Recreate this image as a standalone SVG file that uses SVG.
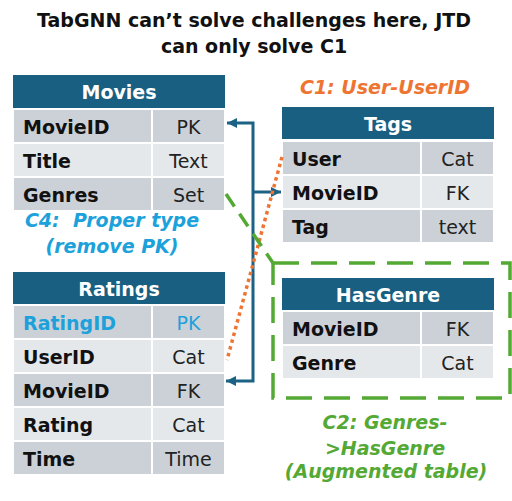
<svg xmlns="http://www.w3.org/2000/svg" width="512" height="501" viewBox="0 0 512 501">
<defs>
<style>
.hdr{fill:#185F82}
.dk{fill:#CCD1D8;stroke:#fff;stroke-width:2}
.lt{fill:#E5E8EB;stroke:#fff;stroke-width:2}
.div{stroke:#fff;stroke-width:2}
text{font-family:"DejaVu Sans","Noto Sans",sans-serif;font-size:19px}
.ht{fill:#fff;font-weight:bold;text-anchor:middle}
.fn{fill:#111;font-weight:bold}
.ty{fill:#222;text-anchor:middle}
.cy{fill:#1DA1DB}
.ann{font-weight:bold;font-style:italic;text-anchor:middle}
.title{fill:#111;font-weight:bold;text-anchor:middle}
.blue{fill:none;stroke:#1B6285;stroke-width:3}
</style>
<marker id="arr" markerUnits="userSpaceOnUse" markerWidth="12" markerHeight="12" refX="10" refY="5" orient="auto">
<path d="M0,0 L10,5 L0,10 Z" fill="#1B6285"/>
</marker>
</defs>
<rect width="512" height="501" fill="#fff"/>

<g id="title">
<text class="title" x="254" y="27">TabGNN can’t solve challenges here, JTD</text>
<text class="title" x="254" y="53">can only solve C1</text>
</g>

<g id="augmented-box">
<rect x="273" y="263" width="237" height="135" fill="none" stroke="#54A935" stroke-width="3.5" stroke-dasharray="26 12"/>
</g>

<g id="movies">
<rect class="hdr" x="13" y="75" width="212" height="33"/>
<text class="ht" x="119" y="99">Movies</text>
<rect class="dk" x="13" y="109" width="212" height="34"/>
<rect class="lt" x="13" y="143" width="212" height="34"/>
<rect class="dk" x="13" y="177" width="212" height="34"/>
<line class="div" x1="152" y1="109" x2="152" y2="211"/>
<text class="fn" x="23" y="134">MovieID</text>
<text class="ty" x="188.5" y="134">PK</text>
<text class="fn" x="23" y="168">Title</text>
<text class="ty" x="188.5" y="168">Text</text>
<text class="fn" x="23" y="202">Genres</text>
<text class="ty" x="188.5" y="202">Set</text>
</g>

<g id="ratings">
<rect class="hdr" x="13" y="272" width="212" height="32"/>
<text class="ht" x="119" y="296">Ratings</text>
<rect class="dk" x="13" y="305" width="212" height="34"/>
<rect class="lt" x="13" y="339" width="212" height="34"/>
<rect class="dk" x="13" y="373" width="212" height="34"/>
<rect class="lt" x="13" y="407" width="212" height="34"/>
<rect class="dk" x="13" y="441" width="212" height="34"/>
<line class="div" x1="152" y1="305" x2="152" y2="475"/>
<text class="fn cy" x="23" y="330">RatingID</text>
<text class="ty cy" x="188.5" y="330">PK</text>
<text class="fn" x="23" y="364">UserID</text>
<text class="ty" x="188.5" y="364">Cat</text>
<text class="fn" x="23" y="398">MovieID</text>
<text class="ty" x="188.5" y="398">FK</text>
<text class="fn" x="23" y="432">Rating</text>
<text class="ty" x="188.5" y="432">Cat</text>
<text class="fn" x="23" y="466">Time</text>
<text class="ty" x="188.5" y="466">Time</text>
</g>

<g id="tags">
<rect class="hdr" x="282" y="107" width="212" height="32"/>
<text class="ht" x="388" y="131">Tags</text>
<rect class="dk" x="282" y="141" width="212" height="34"/>
<rect class="lt" x="282" y="175" width="212" height="34"/>
<rect class="dk" x="282" y="209" width="212" height="34"/>
<line class="div" x1="421" y1="141" x2="421" y2="243"/>
<text class="fn" x="292" y="166">User</text>
<text class="ty" x="457.5" y="166">Cat</text>
<text class="fn" x="292" y="200">MovieID</text>
<text class="ty" x="457.5" y="200">FK</text>
<text class="fn" x="292" y="234">Tag</text>
<text class="ty" x="457.5" y="234">text</text>
</g>

<g id="hasgenre">
<rect class="hdr" x="282" y="278" width="212" height="32"/>
<text class="ht" x="388" y="302">HasGenre</text>
<rect class="dk" x="282" y="311" width="212" height="34"/>
<rect class="lt" x="282" y="345" width="212" height="34"/>
<line class="div" x1="421" y1="311" x2="421" y2="379"/>
<text class="fn" x="292" y="336">MovieID</text>
<text class="ty" x="457.5" y="336">FK</text>
<text class="fn" x="292" y="370">Genre</text>
<text class="ty" x="457.5" y="370">Cat</text>
</g>

<g id="connectors">
<path class="blue" d="M253,192 L253,123 L227,123" marker-end="url(#arr)"/>
<path class="blue" d="M253,192 L281,192" marker-end="url(#arr)"/>
<path class="blue" d="M253,192 L253,381 L226,381" marker-end="url(#arr)"/>
<path d="M282,157 L227,360" fill="none" stroke="#EE7432" stroke-width="3.5" stroke-dasharray="3.5 3.5"/>
<path d="M226,194 L273,263" fill="none" stroke="#54A935" stroke-width="3.5" stroke-dasharray="15 9"/>
</g>

<g id="annotations">
<text class="ann" x="385" y="94" fill="#EE7432">C1: User-UserID</text>
<text class="ann" x="112" y="227" fill="#1DA1DB" xml:space="preserve">C4:  Proper type</text>
<text class="ann" x="112" y="253" fill="#1DA1DB">(remove PK)</text>
<text class="ann" x="385" y="429" fill="#54A935">C2: Genres-</text>
<text class="ann" x="385" y="455" fill="#54A935">&gt;HasGenre</text>
<text class="ann" x="386" y="478" fill="#54A935">(Augmented table)</text>
</g>
</svg>
